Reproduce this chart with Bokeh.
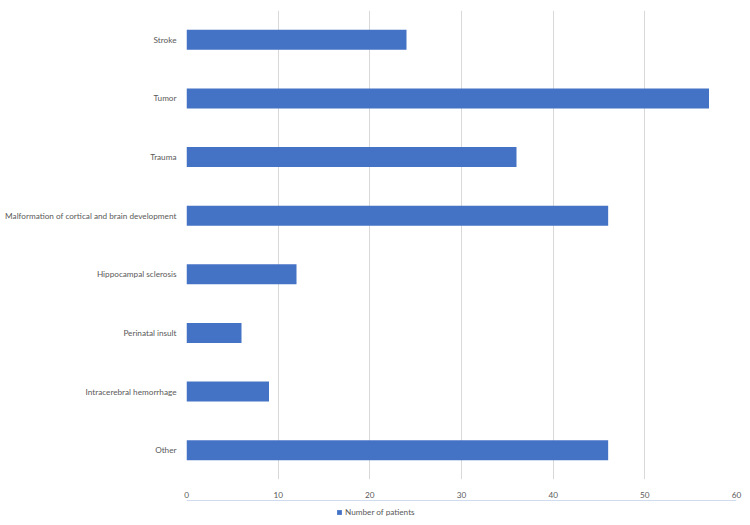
from bokeh.plotting import figure
from bokeh.layouts import column
from bokeh.models import FactorRange, Range1d, Legend, LegendItem, ColumnDataSource, FixedTicker
from bokeh.embed import file_html
from bokeh.resources import INLINE

categories = ["Stroke", "Tumor", "Trauma", "Malformation of cortical and brain development",
              "Hippocampal sclerosis", "Perinatal insult", "Intracerebral hemorrhage", "Other"]
patients = [24, 57, 36, 46, 12, 6, 9, 46]
x_ticks = [0, 10, 20, 30, 40, 50, 60]
series_name = "Number of patients"

FONT = "Lato"
TXT = "#595959"
BAR = "#4472C4"
FS = "8.2px"

src = ColumnDataSource(data=dict(cat=categories, val=patients))

p = figure(width=750, height=500, output_backend="svg", toolbar_location=None,
           y_range=FactorRange(factors=list(reversed(categories))),
           x_range=Range1d(0, 60))
p.min_border_left = 186
p.min_border_right = 14
p.min_border_top = 10
p.min_border_bottom = 21
p.outline_line_color = None
p.background_fill_color = "white"
p.border_fill_color = "white"

r = p.hbar(y="cat", right="val", left=0, height=0.34, source=src,
           fill_color=BAR, line_color=None)

p.xaxis.ticker = FixedTicker(ticks=x_ticks)
p.xaxis.axis_line_color = None
p.xaxis.major_tick_line_color = None
p.xaxis.minor_tick_line_color = None
p.xaxis.major_label_text_font = FONT
p.xaxis.major_label_text_font_size = FS
p.xaxis.major_label_text_color = TXT
p.xaxis.major_label_standoff = 6

p.yaxis.axis_line_color = None
p.yaxis.major_tick_line_color = None
p.yaxis.major_label_text_font = FONT
p.yaxis.major_label_text_font_size = FS
p.yaxis.major_label_text_color = TXT
p.yaxis.major_label_standoff = 4

p.ygrid.grid_line_color = None
p.xgrid.grid_line_color = "#D9D9D9"
p.xgrid.grid_line_width = 1

# legend strip below the chart (its frame is aligned with the chart's frame)
lg = figure(width=750, height=25, output_backend="svg", toolbar_location=None,
            x_range=Range1d(0, 1), y_range=Range1d(0, 1),
            x_axis_location=None, y_axis_location=None)
lg.min_border = 0
lg.outline_line_color = None
lg.grid.visible = False
lsrc = ColumnDataSource(data=dict(y=[5], right=[1]))
lr = lg.hbar(y="y", right="right", left=0, height=0.5, source=lsrc,
             fill_color=BAR, line_color=None)
legend = Legend(items=[LegendItem(label=series_name, renderers=[lr])],
                orientation="horizontal", location=(150, 8),
                label_text_font=FONT, label_text_font_size=FS,
                label_text_color=TXT, glyph_width=6, glyph_height=6,
                label_standoff=3, border_line_color=None, padding=2, margin=0,
                label_height=10, background_fill_alpha=0)
lg.add_layout(legend)

layout = column(p, lg, spacing=0)
open("out.html", "w").write(file_html(layout, INLINE))
